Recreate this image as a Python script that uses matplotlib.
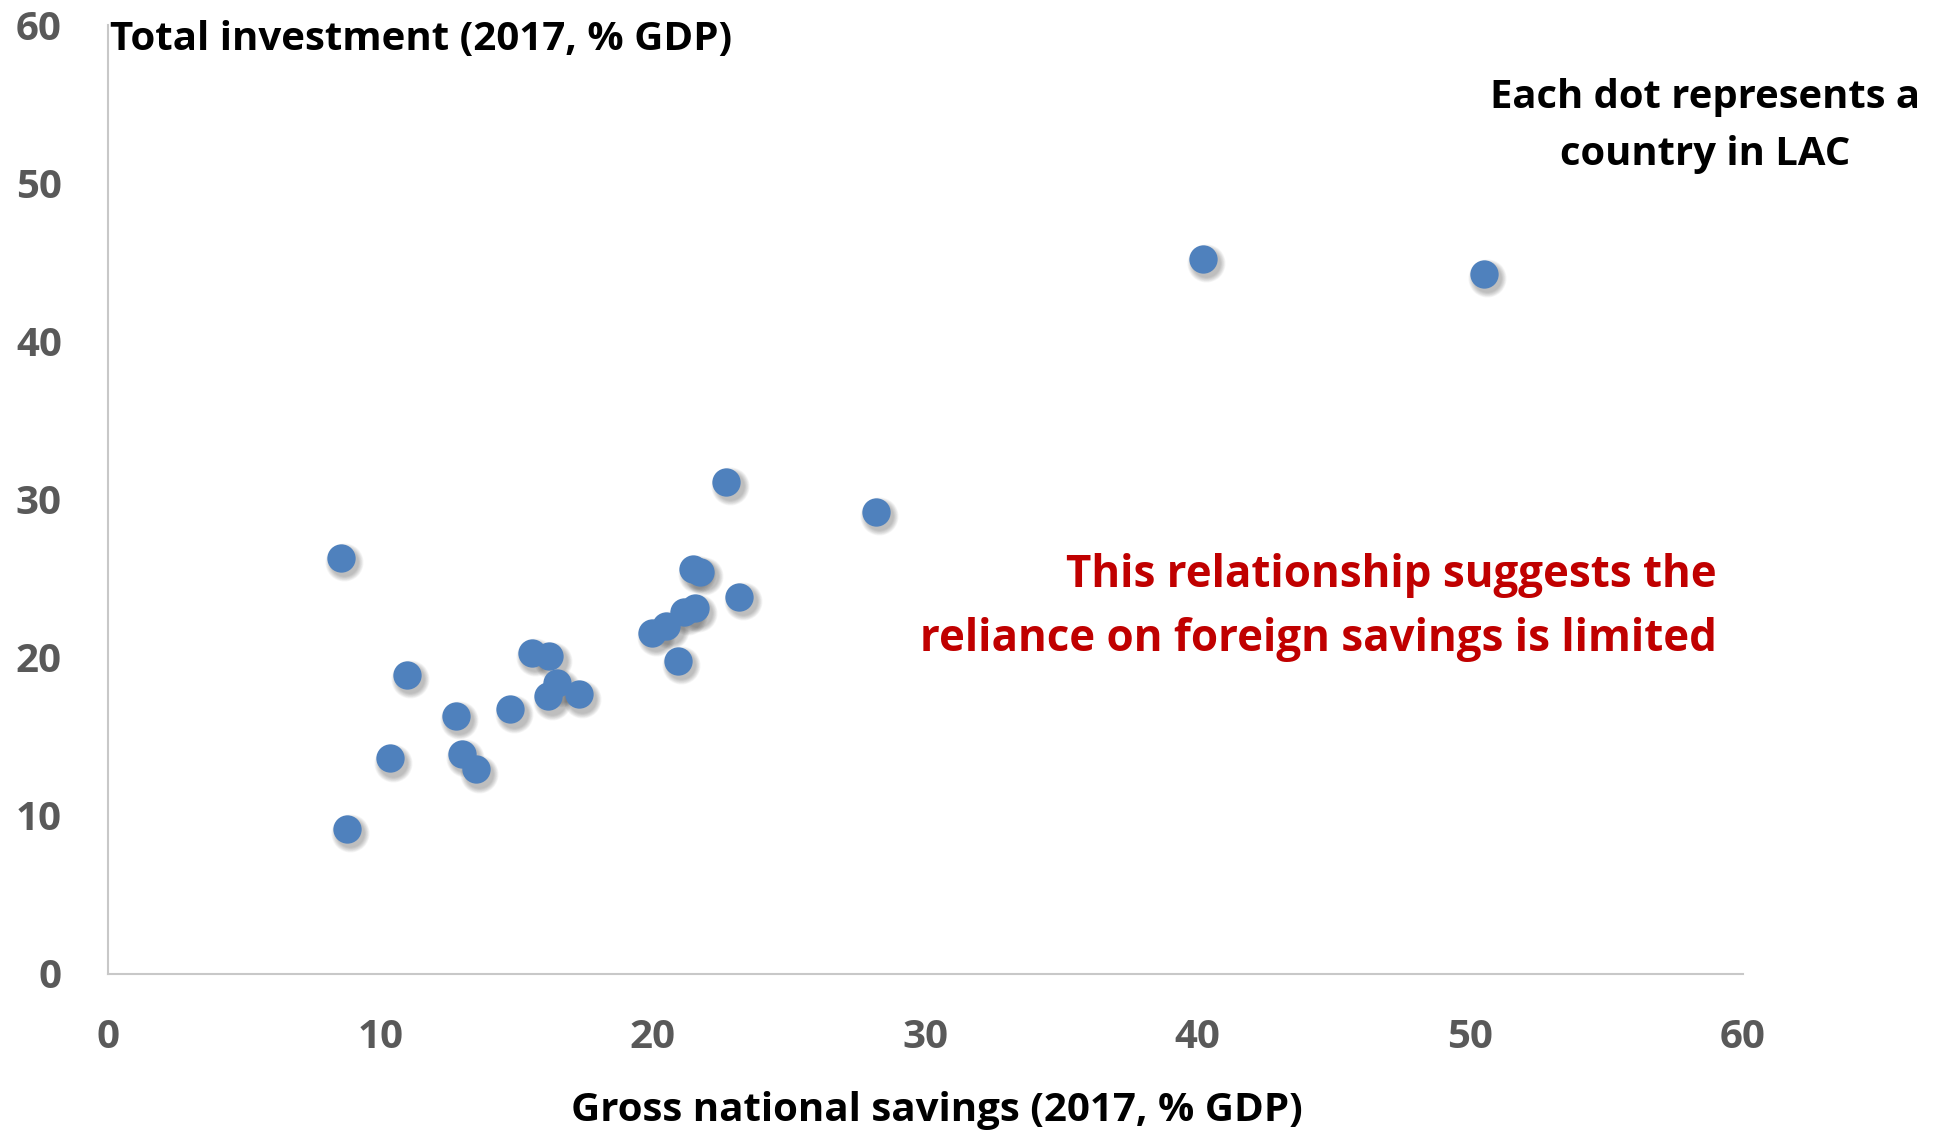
import numpy as np
import matplotlib.pyplot as plt
from matplotlib import transforms

plt.rcParams['font.family'] = ['Open Sans', 'DejaVu Sans']
plt.rcParams['font.weight'] = 'bold'

# Gross national savings vs total investment, 2017, % of GDP (one dot per LAC country)
savings = [8.55, 8.77, 10.36, 10.97, 12.77, 12.99, 13.5, 14.77, 15.56, 16.2,
           16.17, 16.5, 17.28, 19.99, 20.49, 20.92, 21.16, 21.55, 21.49, 21.74,
           23.17, 22.7, 28.18, 40.18, 50.5]
investment = [26.3, 9.14, 13.6, 18.88, 16.3, 13.9, 12.93, 16.7, 20.29, 20.08,
              17.55, 18.35, 17.66, 21.56, 21.98, 19.77, 22.88, 23.1, 25.57, 25.42,
              23.83, 31.1, 29.2, 45.2, 44.26]

ticks = [0, 10, 20, 30, 40, 50, 60]

dot_color = '#4F81BD'
tick_color = '#595959'
axis_color = '#C8C8C8'
note_red = '#C00000'

W, H = 1942, 1131
fig = plt.figure(figsize=(W / 100, H / 100), dpi=100)
ax = fig.add_axes([107.7 / W, 1 - 973.5 / H, (1742.6 - 107.7) / W, (973.5 - 24.8) / H])

# soft drop shadow: stacked translucent discs, shifted down-right
off = transforms.ScaledTranslation(3.5 / 100, -4.5 / 100, fig.dpi_scale_trans)
dot = 20.4
for grow in np.linspace(7, 0, 8):
    ax.scatter(savings, investment, s=(dot + grow) ** 2, color='#303030', alpha=0.045,
               linewidths=0, transform=ax.transData + off, zorder=2)

ax.scatter(savings, investment, s=dot ** 2, color=dot_color, linewidths=0, zorder=3)

ax.set_xlim(0, 60)
ax.set_ylim(0, 60)
ax.set_xticks(ticks)
ax.set_yticks(ticks)
ax.tick_params(length=0, labelsize=29, labelcolor=tick_color)
ax.tick_params(axis='x', pad=32)
ax.tick_params(axis='y', pad=33)
for lab in ax.get_xticklabels() + ax.get_yticklabels():
    lab.set_fontweight('bold')

for side in ['top', 'right']:
    ax.spines[side].set_visible(False)
for side in ['left', 'bottom']:
    ax.spines[side].set_color(axis_color)
    ax.spines[side].set_linewidth(1.5)

# axis titles
fig.text(110 / W, 1 - 49.5 / H, 'Total investment (2017, % GDP)',
         fontsize=29, fontweight='bold', color='black', ha='left', va='baseline')
fig.text(937 / W, 1 - 1121 / H, 'Gross national savings (2017, % GDP)',
         fontsize=29, fontweight='bold', color='black', ha='center', va='baseline')

# notes
for txt, base in [('Each dot represents a', 107.7), ('country in LAC', 164.7)]:
    fig.text(1705 / W, 1 - base / H, txt, fontsize=28.8, fontweight='bold',
             color='black', ha='center', va='baseline')

for txt, base in [('This relationship suggests the', 587),
                  ('reliance on foreign savings is limited', 651)]:
    fig.text(1716.6 / W, 1 - base / H, txt, fontsize=31.6, fontweight='bold',
             color=note_red, ha='right', va='baseline')

fig.savefig('out.png', dpi=100, facecolor='white')
